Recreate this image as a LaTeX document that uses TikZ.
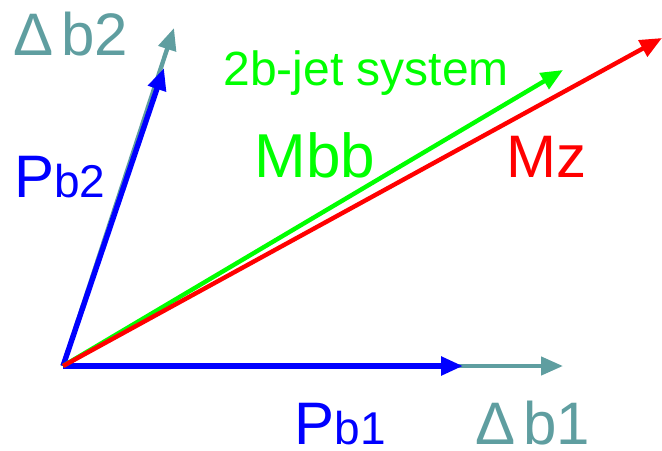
\documentclass[tikz,border=0pt]{standalone}
\usepackage{fontspec}
\setmainfont{Liberation Sans}
\usetikzlibrary{arrows.meta}

\definecolor{deltateal}{RGB}{95,158,160}

\begin{document}
\begin{tikzpicture}[
  x=0.5pt, y=-0.5pt,
  vec/.style={-{Triangle[length=11pt,width=9pt]}, line width=2.2pt},
  label/.style={anchor=base west, inner sep=0pt, font=\fontsize{30}{36}\selectfont}
]
\useasboundingbox (0,0) rectangle (662,450);

\coordinate (origin) at (63,366);
\coordinate (db1end) at (563,366);
\coordinate (pb1end) at (463,366);
\coordinate (db2end) at (174,28);
\coordinate (pb2end) at (164,68);
\coordinate (mbbend) at (563,70);
\coordinate (mzend) at (662,38);

% deltas underneath the momenta
\draw[vec, deltateal] (origin) -- (db1end);
\draw[vec, deltateal] (origin) -- (db2end);
\draw[vec, blue, line width=2.7pt] (origin) -- (pb1end);
\draw[vec, blue, line width=2.7pt] (origin) -- (pb2end);
\draw[vec, green] (origin) -- (mbbend);
\draw[vec, red] (origin) -- (mzend);

\node[label, text=deltateal] (db2lbl) at (13,55) {Δ\hspace{4pt}b2};
\node[label, text=blue] (pb2lbl) at (14,197) {P{\fontsize{23}{28}\selectfont b2}};
\node[label, text=blue] (pb1lbl) at (294,444) {P{\fontsize{23}{28}\selectfont b1}};
\node[label, text=deltateal] (db1lbl) at (475,444) {Δ\hspace{4pt}b1};
\node[label, text=green, font=\fontsize{24}{28}\selectfont] (jetlbl) at (223,85) {2b-jet system};
\node[label, text=green, font=\fontsize{31}{36}\selectfont] (mbblbl) at (254,177) {Mbb};
\node[label, text=red] (mzlbl) at (506,177) {Mz};

\end{tikzpicture}
\end{document}
